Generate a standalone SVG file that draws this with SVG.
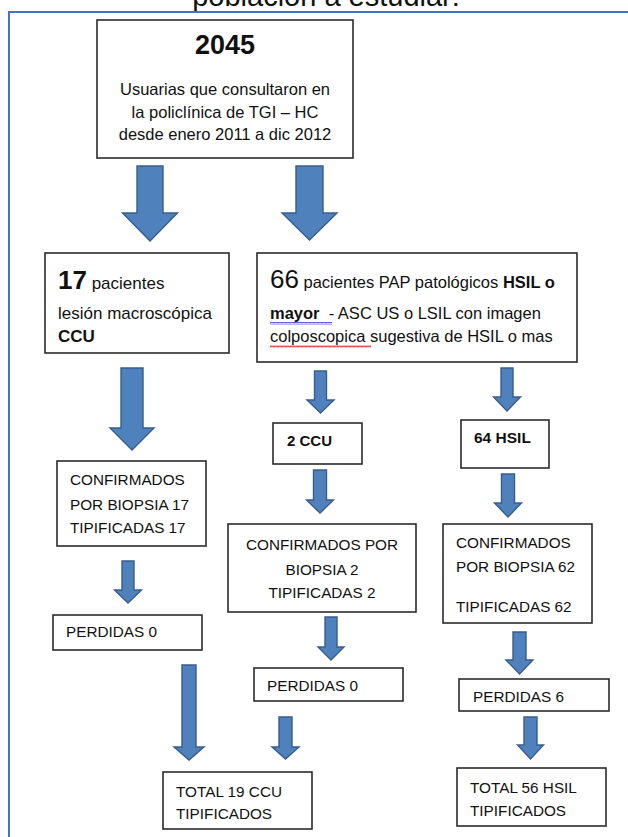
<svg xmlns="http://www.w3.org/2000/svg" width="628" height="837" viewBox="0 0 628 837">
<style>
  text { font-family: "Liberation Sans", Arial, sans-serif; fill: #111; }
  .box { fill: #fff; stroke: #2b2b2b; stroke-width: 1.6; }
  .arrow { fill: #4f81bd; stroke: #385d8a; stroke-width: 1.4; stroke-linejoin: miter; }
  .t { font-size: 15.3px; }
  .m { font-size: 16.5px; }
  .b { font-weight: bold; }
  .c { text-anchor: middle; }
</style>
<defs>
  <pattern id="wavyBlue" x="0" y="0" width="4" height="3" patternUnits="userSpaceOnUse">
    <path d="M0 2.5 L1 0.5 L2 2.5 L3 0.5 L4 2.5" fill="none" stroke="#3a3ad6" stroke-width="0.8"/>
  </pattern>
  <pattern id="wavyRed" x="0" y="0" width="4" height="3" patternUnits="userSpaceOnUse">
    <path d="M0 2.5 L1 0.5 L2 2.5 L3 0.5 L4 2.5" fill="none" stroke="#e03030" stroke-width="0.8"/>
  </pattern>
</defs>
<rect width="628" height="837" fill="#fff"/>
<text x="326" y="6" class="c" style="font-size:29px">población a estudiar:</text>
<rect x="9" y="12" width="640" height="900" fill="none" stroke="#4472c4" stroke-width="2"/>

<g id="connectors">
  <path class="arrow" d="M137 166 H163 V213 H177.5 L150 241 L122.5 213 H137 Z"/>
  <path class="arrow" d="M296 166 H323 V213 H337 L309.5 240 L282 213 H296 Z"/>
  <path class="arrow" d="M121 368 H143 V428 H154 L132 450 L110 428 H121 Z"/>
  <path class="arrow" d="M314.5 371 H326.5 V400 H334 L320.5 413 L307 400 H314.5 Z"/>
  <path class="arrow" d="M501 368 H513 V397 H520.5 L507 411 L493.5 397 H501 Z"/>
  <path class="arrow" d="M313.5 470 H326.5 V500 H333.5 L320 513 L306.5 500 H313.5 Z"/>
  <path class="arrow" d="M501.5 474 H514.5 V503 H521.5 L508 517 L494.5 503 H501.5 Z"/>
  <path class="arrow" d="M122 561 H134 V590 H141.5 L128 603 L114.5 590 H122 Z"/>
  <path class="arrow" d="M325 617 H337 V647 H344 L331 660 L318 647 H325 Z"/>
  <path class="arrow" d="M513 632 H526 V660 H533 L519.5 674 L506 660 H513 Z"/>
  <path class="arrow" d="M182 665 H196 V747 H204 L189 760 L174 747 H182 Z"/>
  <path class="arrow" d="M279 717 H292 V747 H299 L285.5 759 L272 747 H279 Z"/>
  <path class="arrow" d="M524 717 H537 V745 H543.5 L530.5 759 L517.5 745 H524 Z"/>
</g>

<g id="n-2045">
  <rect class="box" x="97" y="20" width="256" height="138"/>
  <text x="225" y="54" class="c b" style="font-size:27px">2045</text>
  <text x="225" y="95" class="c m">Usuarias que consultaron en</text>
  <text x="225" y="118" class="c m">la policlínica de TGI – HC</text>
  <text x="225" y="140" class="c m">desde enero 2011 a dic 2012</text>
</g>

<g id="n-17">
  <rect class="box" x="45" y="253" width="184" height="100"/>
  <text x="58" y="289" style="font-size:17px"><tspan class="b" style="font-size:26px">17</tspan> pacientes</text>
  <text x="58" y="319" style="font-size:17px">lesión macroscópica</text>
  <text x="58" y="342" class="b" style="font-size:17px">CCU</text>
</g>

<g id="n-66">
  <rect class="box" x="257" y="253" width="320" height="109"/>
  <text x="270" y="288" class="m"><tspan style="font-size:26px">66</tspan> pacientes PAP patológicos <tspan class="b">HSIL o</tspan></text>
  <text x="270" y="319" class="m"><tspan class="b">mayor</tspan>&#160; - ASC US o LSIL con imagen</text>
  <text x="270" y="342" class="m">colposcopica sugestiva de HSIL o mas</text>
  <rect x="270" y="322" width="62" height="3" fill="url(#wavyBlue)"/>
  <rect x="270" y="345" width="101" height="3" fill="url(#wavyRed)"/>
</g>

<g id="n-2ccu">
  <rect class="box" x="273" y="423" width="89" height="41"/>
  <text x="287" y="446" class="b" style="font-size:15px">2 CCU</text>
</g>

<g id="n-64hsil">
  <rect class="box" x="461" y="420" width="88" height="48"/>
  <text x="474" y="443" class="b" style="font-size:15.5px">64 HSIL</text>
</g>

<g id="n-conf17">
  <rect class="box" x="57" y="461" width="149" height="85"/>
  <text x="70" y="485" class="t">CONFIRMADOS</text>
  <text x="70" y="510" class="t">POR BIOPSIA 17</text>
  <text x="70" y="533" class="t">TIPIFICADAS 17</text>
</g>

<g id="n-conf2">
  <rect class="box" x="228" y="524" width="188" height="88"/>
  <text x="322" y="550" class="t c">CONFIRMADOS POR</text>
  <text x="322" y="575" class="t c">BIOPSIA 2</text>
  <text x="322" y="598" class="t c">TIPIFICADAS 2</text>
</g>

<g id="n-conf62">
  <rect class="box" x="443" y="524" width="149" height="99"/>
  <text x="456" y="548" class="t">CONFIRMADOS</text>
  <text x="456" y="572" class="t">POR BIOPSIA 62</text>
  <text x="456" y="612" class="t">TIPIFICADAS 62</text>
</g>

<g id="n-perd0-left">
  <rect class="box" x="53" y="615" width="149" height="35"/>
  <text x="66" y="637" class="t">PERDIDAS 0</text>
</g>

<g id="n-perd0-mid">
  <rect class="box" x="254" y="668" width="149" height="33"/>
  <text x="267" y="691" class="t">PERDIDAS 0</text>
</g>

<g id="n-perd6">
  <rect class="box" x="459" y="679" width="150" height="32"/>
  <text x="473" y="702" class="t">PERDIDAS 6</text>
</g>

<g id="n-total19">
  <rect class="box" x="163" y="772" width="149" height="57"/>
  <text x="176" y="797" class="t">TOTAL 19 CCU</text>
  <text x="176" y="819" class="t">TIPIFICADOS</text>
</g>

<g id="n-total56">
  <rect class="box" x="457" y="768" width="149" height="58"/>
  <text x="470" y="793" class="t">TOTAL 56 HSIL</text>
  <text x="470" y="816" class="t">TIPIFICADOS</text>
</g>
</svg>
